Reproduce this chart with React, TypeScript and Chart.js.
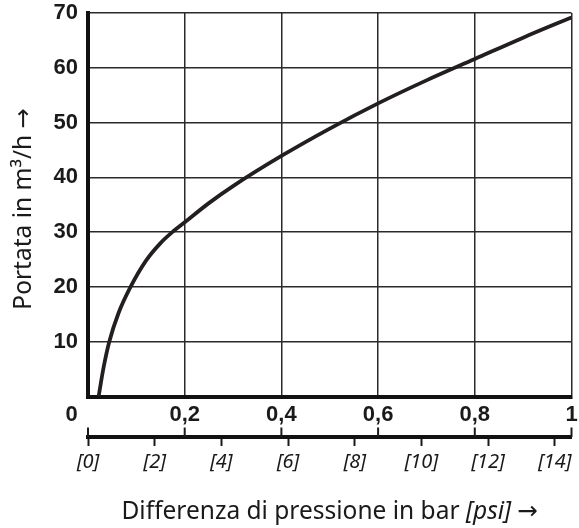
import React, { useEffect, useRef } from "react";
import { Chart, registerables } from "chart.js";

Chart.register(...registerables);

// Pressure difference (bar) and flow rate (m³/h)
const pressureBar = [0.022, 0.032, 0.044, 0.063, 0.088, 0.12, 0.15, 0.177, 0.2, 0.25, 0.3, 0.4, 0.5, 0.6, 0.7, 0.8, 0.9, 1.0];
const flowRate = [0, 5.2, 10, 15.2, 20, 24.8, 28, 30.2, 31.8, 35.3, 38.4, 43.9, 48.9, 53.5, 57.7, 61.6, 65.5, 69.2];

const barTicks = [0, 0.2, 0.4, 0.6, 0.8, 1];
const psiTicks = [0, 2, 4, 6, 8, 10, 12, 14];
const flowTicks = [0, 10, 20, 30, 40, 50, 60, 70];
const BAR_PER_PSI = 0.0689476;

const yTitleParts = [
  { text: "Portata in m³/h ", italic: false, arrow: false },
  { text: "→", italic: false, arrow: true },
];
const xTitleParts = [
  { text: "Differenza di pressione in bar ", italic: false, arrow: false },
  { text: "[psi]", italic: true, arrow: false },
  { text: " ", italic: false, arrow: false },
  { text: "→", italic: false, arrow: true },
];

const BOLD_FONT = "'Liberation Sans Narrow', 'Liberation Sans', Arial, sans-serif";
const TEXT_FONT = "'Noto Sans', 'Open Sans', sans-serif";
const ARROW_FONT = "'DejaVu Sans', sans-serif";
const INK = "#1a1a1a";
const GRID = "#2a2a2a";
const TITLE_SIZE = 24.5;

function partFont(p: { italic: boolean; arrow: boolean }) {
  return `${p.italic ? "italic " : ""}${TITLE_SIZE}px ${p.arrow ? ARROW_FONT : TEXT_FONT}`;
}

function drawParts(ctx: CanvasRenderingContext2D, parts: any[], cx: number) {
  let total = 0;
  const widths = parts.map((p) => {
    ctx.font = partFont(p);
    const w = ctx.measureText(p.text).width;
    total += w;
    return w;
  });
  let x = cx - total / 2;
  parts.forEach((p, i) => {
    ctx.font = partFont(p);
    ctx.fillText(p.text, x, 0);
    x += widths[i];
  });
}

const zeroPad = (s: any) => {
  s.paddingTop = 0;
  s.paddingBottom = 0;
  s.paddingLeft = 0;
  s.paddingRight = 0;
};

const extrasPlugin = {
  id: "extras",
  afterDraw(chart: any) {
    const ctx = chart.ctx as CanvasRenderingContext2D;
    const x = chart.scales.x;
    const x2 = chart.scales.x2;
    const y = chart.scales.y;
    ctx.save();
    // upward bar ticks on the secondary (psi) axis line
    ctx.strokeStyle = INK;
    ctx.lineWidth = 2;
    for (const v of barTicks) {
      const px = x.getPixelForValue(v);
      ctx.beginPath();
      ctx.moveTo(px, x2.top - 9.5);
      ctx.lineTo(px, x2.top);
      ctx.stroke();
    }
    ctx.fillStyle = INK;
    ctx.textBaseline = "alphabetic";
    ctx.textAlign = "left";
    // x title
    ctx.save();
    ctx.translate(0, x2.bottom + 37.3);
    drawParts(ctx, xTitleParts, (x2.left + x2.right) / 2);
    ctx.restore();
    // y title (rotated)
    ctx.save();
    ctx.translate(30.5, (y.top + y.bottom) / 2 + 4);
    ctx.rotate(-Math.PI / 2);
    drawParts(ctx, yTitleParts, 0);
    ctx.restore();
    ctx.restore();
  },
};

const boldTickFont = { family: BOLD_FONT, size: 22, weight: "bold", lineHeight: 1 };

export default function App() {
  const ref = useRef<HTMLCanvasElement | null>(null);

  useEffect(() => {
    if (!ref.current) return;
    const chart = new Chart(ref.current, {
      type: "scatter",
      data: {
        datasets: [
          {
            data: pressureBar.map((p, i) => ({ x: p, y: flowRate[i] })),
            showLine: true,
            borderColor: "#231f20",
            borderWidth: 3.8,
            pointRadius: 0,
            cubicInterpolationMode: "monotone",
            fill: false,
          },
        ],
      },
      options: {
        animation: false,
        responsive: false,
        devicePixelRatio: 1,
        layout: { padding: { top: 13, right: 7.5, bottom: 46, left: 0 } },
        plugins: { legend: { display: false }, tooltip: { enabled: false } },
        scales: {
          x: {
            type: "linear",
            position: "bottom",
            weight: 0,
            min: 0,
            max: 1,
            afterBuildTicks: (s: any) => {
              s.ticks = barTicks.map((v) => ({ value: v }));
            },
            afterFit: (s: any) => {
              s.height = 40.5;
              zeroPad(s);
            },
            ticks: {
              padding: 7.5,
              color: INK,
              font: boldTickFont as any,
              callback: (v: any) =>
                v === 0 ? "0\u2002\u2002\u2002" : v === 1 ? "1" : Number(v).toFixed(1).replace(".", ","),
            },
            grid: { color: GRID, lineWidth: 1.5, drawTicks: false },
            border: { display: true, color: "#111", width: 4 },
          },
          x2: {
            type: "linear",
            position: "bottom",
            weight: 1,
            min: 0,
            max: 1 / BAR_PER_PSI,
            afterBuildTicks: (s: any) => {
              s.ticks = psiTicks.map((v) => ({ value: v }));
            },
            afterFit: (s: any) => {
              s.height = 45;
              zeroPad(s);
            },
            ticks: {
              padding: 4.5,
              color: INK,
              font: { family: TEXT_FONT, size: 20, style: "italic", lineHeight: 1.2 },
              callback: (v: any) => `[${v}]`,
            },
            grid: { drawOnChartArea: false, drawTicks: true, tickLength: 9, tickWidth: 2, color: INK },
            border: { display: true, color: "#111", width: 4 },
          },
          y: {
            type: "linear",
            position: "left",
            min: 0,
            max: 70,
            afterBuildTicks: (s: any) => {
              s.ticks = flowTicks.map((v) => ({ value: v }));
            },
            afterFit: (s: any) => {
              s.width = 88;
              zeroPad(s);
            },
            ticks: {
              padding: 10,
              color: INK,
              font: boldTickFont as any,
              callback: (v: any) => (v === 0 ? "" : String(v)),
            },
            grid: { color: GRID, lineWidth: 1.5, drawTicks: false },
            border: { display: true, color: "#111", width: 4 },
          },
        },
      },
      plugins: [extrasPlugin],
    });
    return () => chart.destroy();
  }, []);

  return (
    <div style={{ position: "fixed", left: 0, top: 0, width: 579, height: 528, background: "#fff" }}>
      <canvas ref={ref} width={579} height={528} style={{ width: 579, height: 528, display: "block" }} />
    </div>
  );
}
